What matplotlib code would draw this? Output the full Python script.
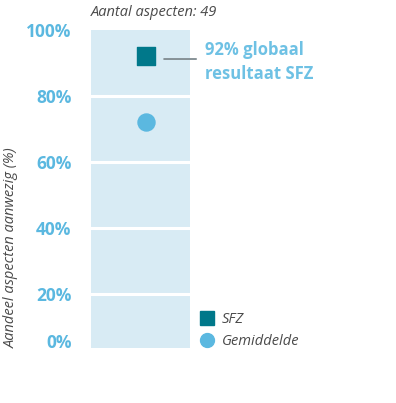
import matplotlib
matplotlib.use("Agg")
import matplotlib.pyplot as plt
from matplotlib.lines import Line2D

plt.rcParams['font.family'] = ['Open Sans', 'DejaVu Sans']

# data
series = ['SFZ', 'Gemiddelde']
values = [92, 72]
n_aspects = 49
tick_vals = [5.8, 20, 40, 60, 80, 100]
tick_labels = ['0%', '20%', '40%', '60%', '80%', '100%']

sfz_color = '#00788a'
avg_color = '#5bb8e0'
panel_color = '#d8ebf4'
label_color = '#5bb8e0'
text_gray = '#4a4a4a'

fig = plt.figure(figsize=(3.96, 4.03), dpi=100)
ax = fig.add_axes([0.2298, 0.1365, 0.25, 0.7891])
ax.set_facecolor(panel_color)
ax.set_xlim(0, 1)
ax.set_ylim(3.6, 100)

# white separators
for g in [20, 40, 60, 80]:
    ax.axhline(g, color='white', lw=2.2, zorder=1)

ax.scatter([0.555], [values[0]], marker='s', s=150, color=sfz_color, zorder=3)
ax.scatter([0.555], [values[1]], marker='o', s=150, color=avg_color, zorder=3)

# annotation for SFZ
ax.annotate('', xy=(0.71, values[0] - 0.8), xytext=(1.09, values[0] - 0.8),
            arrowprops=dict(arrowstyle='-', color='#7f8a8f', lw=1.3),
            annotation_clip=False)
ax.text(1.15, values[0] - 1.6, f'{values[0]}% globaal\nresultaat SFZ',
        color='#6ec1e4', fontsize=12, fontweight='bold', va='center',
        ha='left', linespacing=1.45, transform=ax.transData, clip_on=False)

ax.set_xticks([])
ax.set_yticks(tick_vals)
ax.set_yticklabels(tick_labels, color=label_color, fontsize=12.5, fontweight='bold')
ax.tick_params(axis='y', length=0, pad=14)
for s in ax.spines.values():
    s.set_visible(False)

fig.text(0.23, 0.97, f'Aantal aspecten: {n_aspects}', style='italic',
         color=text_gray, fontsize=10.5, va='center', ha='left')
fig.text(0.028, 0.385, 'Aandeel aspecten aanwezig (%)', style='italic',
         color=text_gray, fontsize=10.5, rotation=90, va='center', ha='center')

handles = [Line2D([], [], marker='s', ls='', color=sfz_color, markersize=10),
           Line2D([], [], marker='o', ls='', color=avg_color, markersize=10)]
leg = fig.legend(handles, series, loc='center left', bbox_to_anchor=(0.472, 0.18),
                 frameon=False, handletextpad=0.5, labelspacing=0.45,
                 handlelength=1.0, prop={'style': 'italic', 'size': 10.5})
for t in leg.get_texts():
    t.set_color(text_gray)

fig.savefig('out.png', dpi=100)
